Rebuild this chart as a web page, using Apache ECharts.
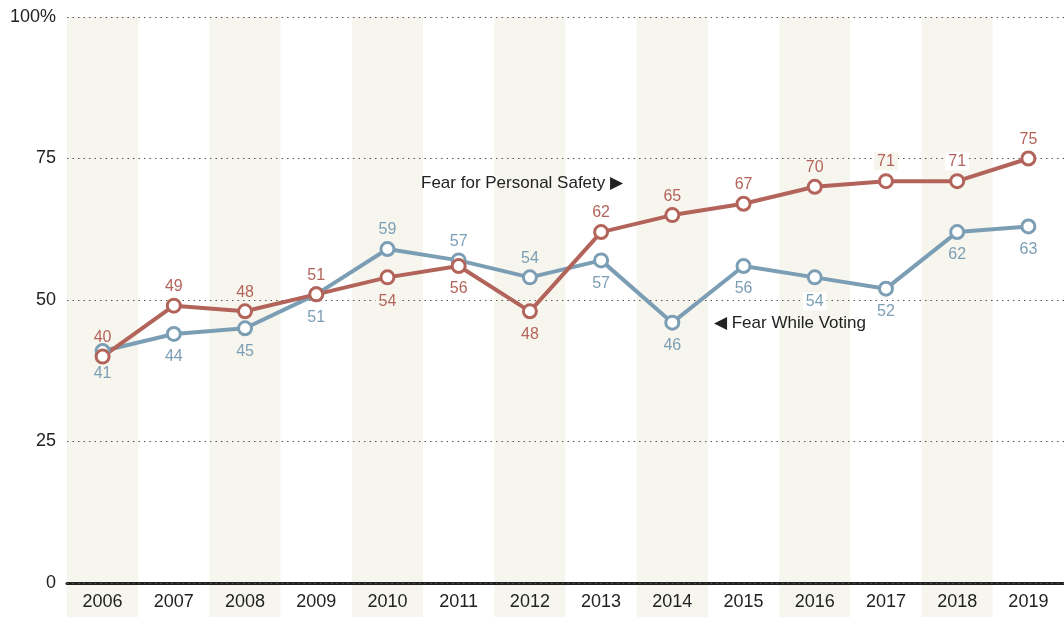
<!DOCTYPE html>
<html>
<head>
    <meta charset="utf-8">
    <title>Fear chart</title>
    <script src="https://cdn.jsdelivr.net/npm/echarts@6/dist/echarts.min.js"></script>
</head>
<body style="margin:0;background:#fff;">
<div id="main" style="width: 1064px;height:617px;"></div>
<script type="text/javascript">
    // data
    var years = ['2006','2007','2008','2009','2010','2011','2012','2013','2014','2015','2016','2017','2018','2019'];
    var safety = [40, 49, 48, 51, 54, 56, 48, 62, 65, 67, 70, 71, 71, 75];
    var voting = [41, 44, 45, 51, 59, 57, 54, 57, 46, 56, 54, 52, 62, 63];
    var yTicks = [0, 25, 50, 75, 100];

    // where each value label sits
    var safetyPos = ['top','top','top','top','bottom','bottom','bottom','top','top','top','top','top','top','top'];
    var votingPos = ['bottom','bottom','bottom','bottom','top','top','top','bottom','bottom','bottom','bottom','bottom','bottom','bottom'];

    var RED = '#b3645a';
    var BLUE = '#7c9eb5';
    var BAND = '#f7f6ee';
    var FONT = '"Liberation Sans", Arial, sans-serif';

    // labels that sit on a gridline get a small patch behind them
    var safetyPatch = { '2010': BAND, '2017': BAND, '2018': '#ffffff' };
    var votingPatch = { '2016': '#ffffff' };

    function points(vals, pos, patch) {
        return vals.map(function (v, i) {
            var d = {
                value: v,
                label: { position: pos[i], distance: pos[i] === 'top' ? 3 : 7 }
            };
            if (patch[years[i]]) {
                d.label.backgroundColor = patch[years[i]];
                d.label.padding = [1, 3];
            }
            return d;
        });
    }

    function lineSeries(name, vals, pos, patch, color) {
        return {
            name: name,
            type: 'line',
            data: points(vals, pos, patch),
            symbol: 'circle',
            symbolSize: 13,
            lineStyle: { color: color, width: 4 },
            itemStyle: { color: '#fff', borderColor: color, borderWidth: 3 },
            label: {
                show: true,
                color: color,
                fontSize: 16,
                fontFamily: FONT
            },
            emphasis: { disabled: true },
            z: 3
        };
    }

    var myChart = echarts.init(document.getElementById('main'));

    myChart.setOption({
        animation: false,
        textStyle: { fontFamily: FONT },
        grid: [
            { left: 67, right: 0, top: 17, bottom: 34 },
            { left: 67, right: 0, top: 583, bottom: 0 }
        ],
        xAxis: [
            {
                type: 'category',
                gridIndex: 0,
                data: years,
                z: 0,
                axisLine: { lineStyle: { color: '#222', width: 3 } },
                axisTick: { show: false },
                axisLabel: { color: '#222', fontSize: 18, fontFamily: FONT, margin: 10 },
                splitArea: { show: true, areaStyle: { color: [BAND, '#ffffff'] } }
            },
            {
                type: 'category',
                gridIndex: 1,
                data: years,
                z: 0,
                axisLine: { show: false },
                axisTick: { show: false },
                axisLabel: { show: false },
                splitArea: { show: true, areaStyle: { color: [BAND, '#ffffff'] } }
            }
        ],
        yAxis: [
            {
                type: 'value',
                gridIndex: 0,
                z: 1,
                min: yTicks[0],
                max: yTicks[yTicks.length - 1],
                interval: 25,
                axisLine: { show: false },
                axisTick: { show: false },
                axisLabel: {
                    color: '#222',
                    fontSize: 18,
                    fontFamily: FONT,
                    margin: 11,
                    formatter: function (v) { return v === 100 ? '100%' : String(v); }
                },
                splitLine: { lineStyle: { color: '#555', type: [1.5, 4], width: 1.2 } }
            },
            { type: 'value', gridIndex: 1, show: false, min: 0, max: 1 }
        ],
        graphic: [
            {
                type: 'text',
                right: 1064 - 623,
                top: 175,
                z: 10,
                style: { text: 'Fear for Personal Safety \u25B6', fill: '#222', font: '17px ' + FONT }
            },
            {
                type: 'text',
                left: 714,
                top: 315,
                z: 10,
                style: { text: '\u25C0 Fear While Voting', fill: '#222', font: '17px ' + FONT }
            }
        ],
        series: [
            lineSeries('Fear While Voting', voting, votingPos, votingPatch, BLUE),
            lineSeries('Fear for Personal Safety', safety, safetyPos, safetyPatch, RED)
        ]
    });
</script>
</body>
</html>
